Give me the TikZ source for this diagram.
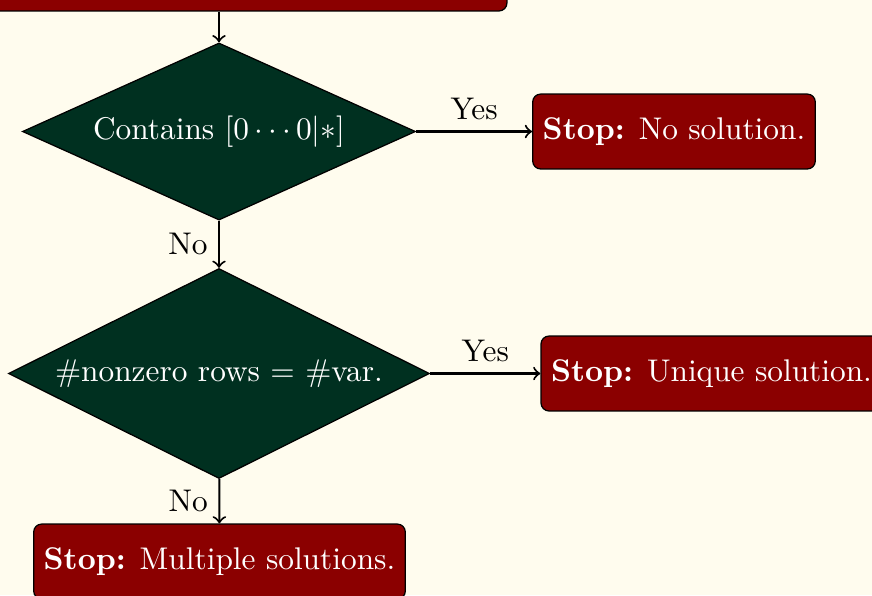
\documentclass[tikz,border=0pt]{standalone}
\usetikzlibrary{shapes.geometric}
\definecolor{bg}{RGB}{255,252,238}
\definecolor{stopred}{RGB}{139,0,0}
\definecolor{decgreen}{RGB}{0,48,32}
\begin{document}
\begin{tikzpicture}[x=0.319pt,y=-0.319pt,
  stopbox/.style={draw=black, fill=stopred, text=white, rounded corners=2.55pt,
    minimum height=23.9pt, inner xsep=3.2pt},
  decision/.style={diamond, draw=black, fill=decgreen, text=white, inner sep=0pt},
  flow/.style={->, line width=0.65pt}]
\fill[bg] (0,0) rectangle (872,595);
\useasboundingbox (0,0) rectangle (872,595);
\clip (0,0) rectangle (872,595);
\node[stopbox, minimum width=183.7pt] (top) at (219,-26.5) {};
\node[decision, shape aspect=2.22, minimum width=125.4pt, minimum height=56.5pt] (d1) at (219,131.5) {Contains $[0\cdots0|*]$};
\node[decision, shape aspect=2.0, minimum width=134.3pt, minimum height=67.0pt] (d2) at (219,373.5) {\#nonzero rows $=$ \#var.};
\node[stopbox] (nosol) at (674,131.5) {\textbf{Stop:} No solution.};
\node[stopbox] (unique) at (711.5,373.5) {\textbf{Stop:} Unique solution.};
\node[stopbox] (multi) at (219.5,561.5) {\textbf{Stop:} Multiple solutions.};
\draw[flow] (top) -- (d1);
\draw[flow] (d1) -- node[above] {Yes} (nosol);
\draw[flow] (d1) -- node[left] {No} (d2);
\draw[flow] (d2) -- node[above] {Yes} (unique);
\draw[flow] (d2) -- node[left] {No} (multi);
\end{tikzpicture}
\end{document}
